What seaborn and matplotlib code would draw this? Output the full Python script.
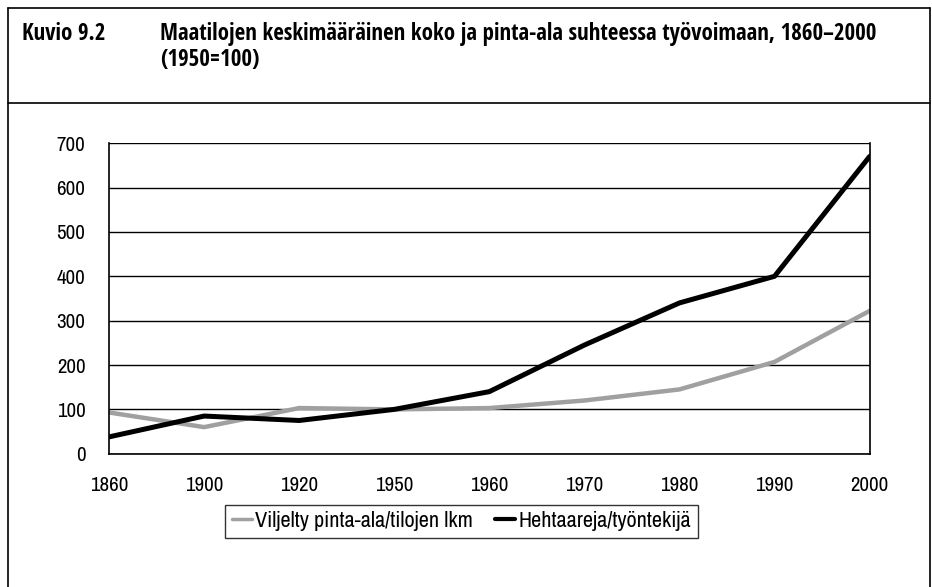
import matplotlib
matplotlib.use("Agg")
import matplotlib.pyplot as plt
import seaborn as sns
import pandas as pd
from matplotlib.lines import Line2D

# Kuvio 9.2 (1950=100)
years = ["1860", "1900", "1920", "1950", "1960", "1970", "1980", "1990", "2000"]
viljelty = [93, 60, 103, 100, 103, 120, 145, 207, 322]
hehtaareja = [38, 85, 75, 100, 140, 245, 340, 400, 670]
series_names = ["Viljelty pinta-ala/tilojen lkm", "Hehtaareja/työntekijä"]

sns.set_theme(style="white")
plt.rcParams["font.family"] = ["Archivo Narrow", "Roboto Condensed", "DejaVu Sans"]
plt.rcParams["text.color"] = "black"
plt.rcParams["xtick.color"] = "black"
plt.rcParams["ytick.color"] = "black"
title_font = ["Open Sans Condensed", "Roboto Condensed", "Archivo Narrow", "DejaVu Sans"]

df = pd.DataFrame({
    "vuosi": years * 2,
    "arvo": viljelty + hehtaareja,
    "sarja": [series_names[0]] * len(years) + [series_names[1]] * len(years),
})

fig = plt.figure(figsize=(9.32, 5.87), dpi=100)
ax = fig.add_axes([0.117, 0.227, 0.816, 0.529])

sns.lineplot(data=df, x="vuosi", y="arvo", hue="sarja", sort=False,
             palette={series_names[0]: "#a0a0a0", series_names[1]: "black"},
             ax=ax, legend=False)
ax.lines[0].set_linewidth(3.2)
ax.lines[1].set_linewidth(3.6)

ax.set_xlim(0, len(years) - 1)
ax.set_ylim(0, 700)
ax.set_yticks(range(0, 701, 100))
ax.set_xticks(range(len(years)))
ax.set_xticklabels(years)
ax.set_xlabel("")
ax.set_ylabel("")
ax.yaxis.grid(True, color="black", linewidth=1)
ax.set_axisbelow(True)
for side in ["left", "bottom", "right"]:
    ax.spines[side].set_color("black")
    ax.spines[side].set_linewidth(1.2)
ax.spines["top"].set_visible(False)
ax.tick_params(axis="both", which="both", direction="out", width=1,
               color="black", labelsize=15)
ax.tick_params(axis="y", length=8, pad=9)
ax.tick_params(axis="x", length=7, pad=9)

handles = [Line2D([], [], color="#a0a0a0", lw=2.5), Line2D([], [], color="black", lw=3)]
leg = fig.legend(handles, series_names, loc="center", bbox_to_anchor=(0.495, 0.112),
                 ncol=2, frameon=True, fancybox=False, fontsize=16,
                 handlelength=0.9, handletextpad=0.15, columnspacing=1.0,
                 borderpad=0.3, borderaxespad=0)
leg.get_frame().set_edgecolor("black")
leg.get_frame().set_linewidth(1)

# kehys ja otsikko
fig.add_artist(Line2D([0.009, 0.009], [0, 0.986], color="black", lw=1.2))
fig.add_artist(Line2D([0.009, 0.998], [0.986, 0.986], color="black", lw=1.2))
fig.add_artist(Line2D([0.998, 0.998], [0, 0.986], color="black", lw=1.2))
fig.add_artist(Line2D([0.009, 0.998], [0.825, 0.825], color="black", lw=1.2))

fig.text(0.024, 0.963, "Kuvio 9.2", fontsize=16.5, fontweight="bold", va="top", family=title_font)
fig.text(0.172, 0.963, "Maatilojen keskimääräinen koko ja pinta-ala suhteessa työvoimaan, 1860–2000\n(1950=100)",
         fontsize=16.5, fontweight="bold", va="top", linespacing=1.1, family=title_font)

fig.savefig("out.png", dpi=100)
